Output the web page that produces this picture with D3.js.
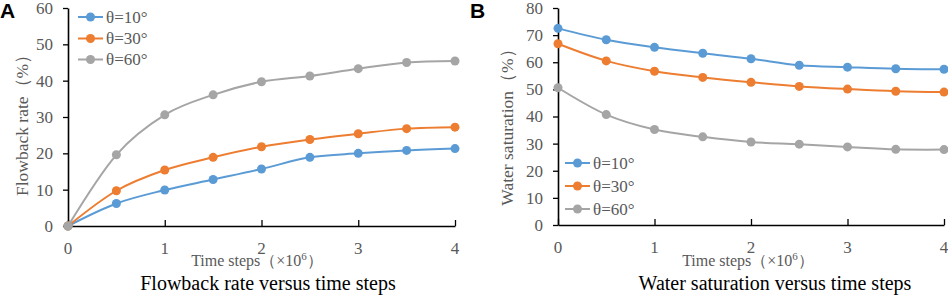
<!DOCTYPE html>
<html><head><meta charset="utf-8">
<script src="https://cdn.jsdelivr.net/npm/d3@7"></script>
<style>
body{margin:0;background:#fff;}
svg{display:block;}
</style></head>
<body>
<svg id="c" width="948" height="300"></svg>
<script>
const steps = [0, 0.5, 1, 1.5, 2, 2.5, 3, 3.5, 4];
const seriesNames = ["θ=10°", "θ=30°", "θ=60°"];
const flowback10 = [0, 6.2, 9.9, 12.8, 15.7, 18.9, 20.0, 20.8, 21.3];
const flowback30 = [0, 9.7, 15.4, 18.9, 21.8, 23.8, 25.4, 26.8, 27.2];
const flowback60 = [0, 19.6, 30.6, 36.1, 39.7, 41.3, 43.3, 45.0, 45.4];
const water10 = [72.5, 68.3, 65.5, 63.3, 61.3, 58.9, 58.2, 57.6, 57.4];
const water30 = [66.8, 60.5, 56.7, 54.4, 52.6, 51.1, 50.1, 49.3, 49.0];
const water60 = [50.6, 40.7, 35.2, 32.5, 30.6, 29.8, 28.8, 27.9, 27.8];
const xTicks = [0, 1, 2, 3, 4];
const yTicksA = [0, 10, 20, 30, 40, 50, 60];
const yTicksB = [0, 10, 20, 30, 40, 50, 60, 70, 80];
const colors = ["#5B9BD5", "#ED7D31", "#A5A5A5"];

const svg = d3.select("#c");
const serif = "Liberation Serif, Times New Roman, serif";
const txtGray = "#595959";

function panel(cfg) {
  const g = svg.append("g");
  const x = d3.scaleLinear().domain([0, 4]).range([cfg.x0, cfg.x1]);
  const y = d3.scaleLinear().domain([0, cfg.ymax]).range([cfg.y0, cfg.y1]);

  const xa = g.append("g").attr("transform", `translate(0,${cfg.y0})`)
    .call(d3.axisTop(x).tickValues(xTicks).tickSize(6).tickSizeOuter(0).tickFormat(""));
  xa.select(".domain").attr("stroke", "#000").attr("stroke-width", 1.6);
  xa.selectAll(".tick line").attr("stroke", "#000").attr("stroke-width", 1.3);
  g.selectAll(".xl").data(xTicks).enter().append("text")
    .attr("x", d => x(d)).attr("y", cfg.y0 + 22)
    .attr("dy", "0.35em").attr("text-anchor", "middle")
    .style("font-family", serif).attr("font-size", 17).attr("fill", txtGray)
    .text(d => d);

  const ya = g.append("g").attr("transform", `translate(${cfg.x0},0)`)
    .call(d3.axisLeft(y).tickValues(cfg.yTicks).tickSize(5).tickSizeOuter(0).tickPadding(10));
  ya.select(".domain").attr("stroke", "#000").attr("stroke-width", 1.6);
  ya.selectAll(".tick line").attr("stroke", "#000").attr("stroke-width", 1.3);
  ya.selectAll(".tick text").style("font-family", serif).attr("font-size", 17).attr("fill", txtGray);

  const line = d3.line().x((d, i) => x(steps[i])).y(d => y(d)).curve(d3.curveCardinal.tension(0));
  cfg.series.forEach((s, k) => {
    g.append("path").datum(s).attr("d", line).attr("fill", "none")
      .attr("stroke", colors[k]).attr("stroke-width", 2);
    g.selectAll(null).data(s).enter().append("circle")
      .attr("cx", (d, i) => x(steps[i])).attr("cy", d => y(d)).attr("r", 4.5)
      .attr("fill", colors[k]);
  });

  seriesNames.forEach((n, k) => {
    const ly = cfg.legY[k];
    g.append("line").attr("x1", cfg.legX).attr("x2", cfg.legX + 25)
      .attr("y1", ly).attr("y2", ly).attr("stroke", colors[k]).attr("stroke-width", 2);
    g.append("circle").attr("cx", cfg.legX + 12.5).attr("cy", ly).attr("r", 4.5).attr("fill", colors[k]);
    g.append("text").attr("x", cfg.legX + 28).attr("y", ly).attr("dy", "0.35em")
      .style("font-family", serif).attr("font-size", 17).attr("fill", txtGray).text(n);
  });

  g.append("text").attr("transform", `translate(${cfg.ytX},${cfg.ytY}) rotate(-90)`)
    .attr("text-anchor", "middle").attr("dy", "0.35em")
    .style("font-family", serif).attr("font-size", 17.5).attr("fill", txtGray)
    .text(cfg.yTitle);

  const xt = g.append("text").attr("x", cfg.xtX).attr("y", 260).attr("dy", "0.35em")
    .attr("text-anchor", "middle")
    .style("font-family", serif).attr("font-size", 16).attr("fill", txtGray);
  xt.append("tspan").text("Time steps（×10");
  xt.append("tspan").attr("font-size", 11).attr("dy", "-0.5em").text("6");
  xt.append("tspan").attr("dy", "0.35em").text("）");

  g.append("text").attr("x", cfg.capX).attr("y", 283).attr("dy", "0.35em")
    .attr("text-anchor", "middle").style("font-family", serif).attr("font-size", 20)
    .attr("fill", "#000").text(cfg.caption);

  g.append("text").attr("x", cfg.letX).attr("y", 18)
    .style("font-family", "Liberation Sans, Arial, sans-serif").attr("font-weight", "bold")
    .attr("font-size", 21).attr("fill", "#000").text(cfg.letter);
}

panel({
  x0: 68, x1: 455, y0: 226, y1: 8, ymax: 60, yTicks: yTicksA,
  series: [flowback10, flowback30, flowback60],
  legX: 78, legY: [17, 38.5, 59.5],
  yTitle: "Flowback rate（%）", ytX: 22, ytY: 121,
  xtX: 257, caption: "Flowback rate versus time steps", capX: 268,
  letter: "A", letX: 0
});
panel({
  x0: 558, x1: 944, y0: 225, y1: 8, ymax: 80, yTicks: yTicksB,
  series: [water10, water30, water60],
  legX: 565, legY: [163, 186, 209],
  yTitle: "Water saturation（%）", ytX: 507, ytY: 123,
  xtX: 748, caption: "Water saturation versus time steps", capX: 775,
  letter: "B", letX: 470
});
</script>
</body></html>
